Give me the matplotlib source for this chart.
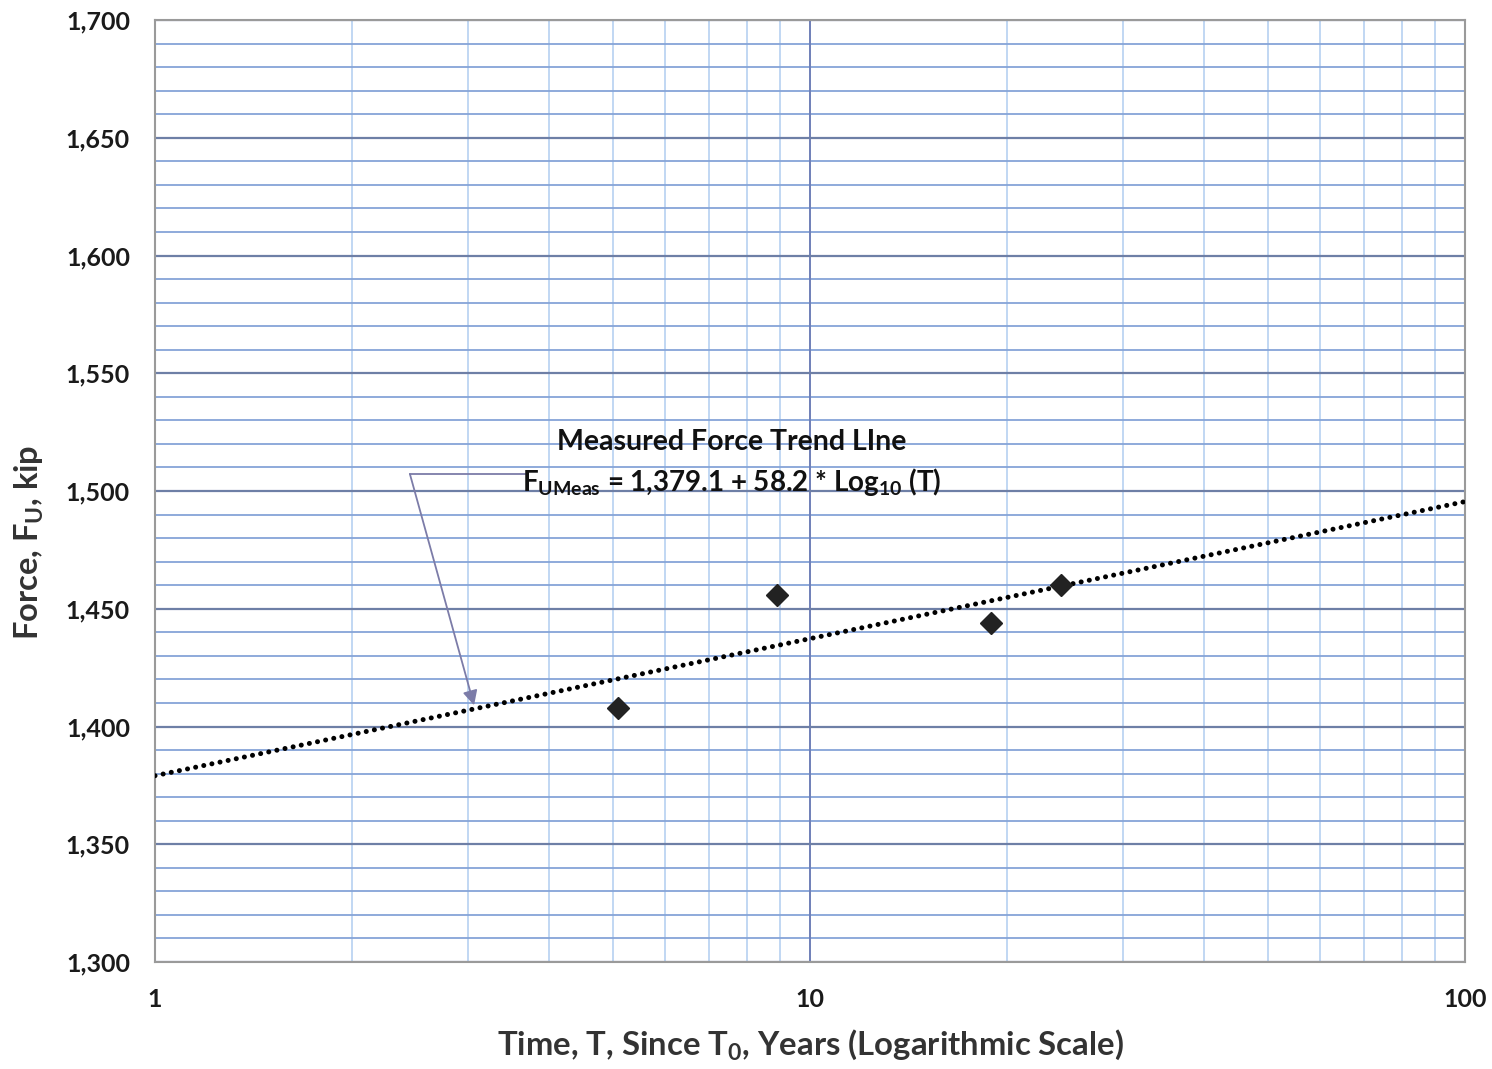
import numpy as np
import matplotlib
matplotlib.use("Agg")
import matplotlib.pyplot as plt
from matplotlib.ticker import FixedLocator, FuncFormatter, NullFormatter

plt.rcParams['font.family'] = ['Lato', 'DejaVu Sans']
plt.rcParams['font.weight'] = 'bold'
plt.rcParams['axes.labelweight'] = 'bold'
plt.rcParams['mathtext.fontset'] = 'custom'
plt.rcParams['mathtext.rm'] = 'Lato:bold'
plt.rcParams['mathtext.bf'] = 'Lato:bold'
plt.rcParams['mathtext.it'] = 'Lato:bold'

# Data
time_years = [5.1, 8.9, 18.9, 24.2]
force_kip = [1408, 1456, 1444, 1460]
trend_intercept = 1379.1
trend_slope = 58.2
trend_T = [1, 100]
y_ticks = [1300, 1350, 1400, 1450, 1500, 1550, 1600, 1650, 1700]
x_ticks = [1, 10, 100]

fig = plt.figure(figsize=(14.92, 10.69), dpi=100)
ax = fig.add_axes([155/1492, 1-962/1069, 1310/1492, 942/1069])
ax.set_xscale('log')
ax.set_xlim(1, 100)
ax.set_ylim(1300, 1700)

# grid
minor_x = [v for d in (1, 10) for v in np.arange(2, 10) * d]
for v in minor_x:
    ax.axvline(v, color='#b0cdf0', lw=1.1, zorder=0)
ax.axvline(10, color='#6f7fb8', lw=1.4, zorder=0.5)
for v in range(1300, 1701, 10):
    if v % 50 == 0:
        ax.axhline(v, color='#6e7fa6', lw=1.6, zorder=0.5)
    else:
        ax.axhline(v, color='#86a4d8', lw=1.3, zorder=0.4)

tl = np.array(trend_T, dtype=float)
ax.plot(tl, trend_intercept + trend_slope * np.log10(tl), color='black', lw=3.6,
        linestyle=(0, (0.01, 1.65)), dash_capstyle='round', zorder=3)
ax.plot(time_years, force_kip, linestyle='none', marker='D', markersize=11.5,
        color='#222222', zorder=4)

ax.xaxis.set_major_locator(FixedLocator(x_ticks))
ax.xaxis.set_minor_formatter(NullFormatter())
ax.xaxis.set_major_formatter(FuncFormatter(lambda v, p: f"{v:g}"))
ax.set_yticks(y_ticks)
ax.yaxis.set_major_formatter(FuncFormatter(lambda v, p: f"{v:,.0f}"))
ax.tick_params(axis='both', which='both', length=0, labelsize=18, labelcolor='#1a1a1a')
ax.tick_params(axis='x', pad=19)
ax.tick_params(axis='y', pad=18)
for s in ax.spines.values():
    s.set_color('#9a9a9a')
    s.set_linewidth(1.5)

ax.set_xlabel('Time, T, Since T$_0$, Years (Logarithmic Scale)', fontsize=23.7, color='#333333')
ax.xaxis.set_label_coords(0.5, -0.07)
ax.set_ylabel('Force, F$_\\mathrm{U}$, kip', fontsize=23.5, color='#333333')
ax.yaxis.set_label_coords(-0.083, 0.445)

ax.text(7.6, 1521, 'Measured Force Trend LIne', fontsize=20.5, ha='center', va='center',
        color='#111111', zorder=5)
ax.text(7.6, 1504, 'F$_\\mathrm{UMeas}$ = 1,379.1 + 58.2 * Log$_{10}$ (T)', fontsize=20,
        ha='center', va='center', color='#111111', zorder=5)

ax.plot([2.45, 3.67], [1507.2, 1507.2], color='#7c7ca8', lw=1.3, zorder=3)
ax.annotate('', xy=(3.07, 1409), xytext=(2.45, 1507.2),
            arrowprops=dict(arrowstyle='-|>', color='#7c7ca8', lw=1.3,
                            mutation_scale=22, shrinkA=0, shrinkB=0), zorder=3)

fig.savefig('out.png', dpi=100)
